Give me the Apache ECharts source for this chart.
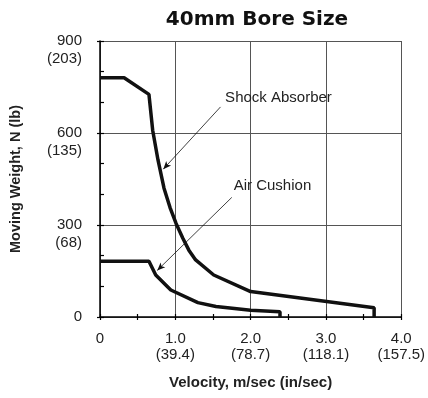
<!DOCTYPE html>
<html>
<head>
<meta charset="utf-8">
<style>
  html, body { margin: 0; padding: 0; background: #fff; }
  #chart { width: 428px; height: 398px; }
</style>
</head>
<body>
<div id="chart"></div>
<script src="https://cdn.jsdelivr.net/npm/echarts@6/dist/echarts.min.js"></script>
<script>
// velocity (m/sec), moving weight (N)
var shockAbsorber = [
  [0, 780], [0.32, 780], [0.65, 726], [0.70, 608], [0.77, 512], [0.85, 420],
  [0.93, 357], [1.01, 305], [1.10, 257], [1.18, 218], [1.27, 186], [1.51, 137],
  [2.0, 83], [3.64, 30], [3.64, 0]
];
var airCushion = [
  [0, 182], [0.65, 182], [0.74, 137], [0.94, 88], [1.30, 47], [1.54, 34],
  [2.0, 22], [2.39, 17], [2.39, 0]
];

var xTickLabels = { 0: '0', 1: '1.0\n(39.4)', 2: '2.0\n(78.7)', 3: '3.0\n(118.1)', 4: '4.0\n(157.5)' };
var yTickLabels = { 0: '0', 300: '300\n(68)', 600: '600\n(135)', 900: '900\n(203)' };

// annotation callouts: text position, arrow start, arrow end
var shockNote = { text: 'Shock Absorber', at: [2.37, 715], from: [1.60, 685], to: [0.84, 482] };
var airNote = { text: 'Air Cushion', at: [2.29, 427], from: [1.75, 390], to: [0.76, 152] };

var font = 'Liberation Sans, Arial, sans-serif';
var chart = echarts.init(document.getElementById('chart'));

function arrow(n) {
  return [{ coord: n.from }, { coord: n.to }];
}
function note(n) {
  return { name: n.text, coord: n.at };
}

// helper axes: only ticks or grid lines, no labels
function plainAxis(min, max, interval, extra) {
  var a = {
    type: 'value', min: min, max: max, interval: interval,
    axisLine: { show: false },
    axisTick: { show: false },
    axisLabel: { show: false },
    splitLine: { show: false }
  };
  for (var k in extra) a[k] = extra[k];
  return a;
}

var tickStyle = { color: '#000', width: 1.2 };
var gridStyle = { color: '#555', width: 1 };

var option = {
  animation: false,
  title: {
    text: '40mm Bore Size',
    left: 252,
    textAlign: 'center',
    top: 5,
    textStyle: { fontFamily: 'DejaVu Sans', fontWeight: 'bold', fontSize: 20, color: '#111' }
  },
  grid: { left: 100, right: 24, top: 41, bottom: 81 },
  xAxis: [{
    type: 'value', min: 0, max: 4, interval: 0.5,
    name: 'Velocity, m/sec (in/sec)', nameLocation: 'middle', nameGap: 58,
    nameTextStyle: { fontFamily: font, fontWeight: 'bold', fontSize: 15, color: '#222' },
    axisLine: { lineStyle: { color: '#000', width: 1.5 } },
    axisTick: { inside: true, length: 3, lineStyle: tickStyle },
    axisLabel: {
      margin: 14, fontFamily: font, fontSize: 15, color: '#222', lineHeight: 16,
      formatter: function (v) { return xTickLabels[v] !== undefined ? xTickLabels[v] : ''; }
    },
    splitLine: { show: false }
  },
  plainAxis(0, 4, 0.5, { position: 'bottom', axisTick: { show: true, length: 3, lineStyle: tickStyle } }),
  plainAxis(0, 4, 1, { position: 'bottom', splitLine: { show: true, lineStyle: gridStyle } })
  ],
  yAxis: [{
    type: 'value', min: 0, max: 900, interval: 100,
    name: 'Moving Weight, N (lb)', nameLocation: 'middle', nameGap: 77,
    nameTextStyle: { fontFamily: font, fontWeight: 'bold', fontSize: 14.5, color: '#222' },
    axisLine: { show: true, lineStyle: { color: '#000', width: 1.5 } },
    axisTick: { show: true, inside: true, length: 4, lineStyle: tickStyle },
    axisLabel: {
      margin: 18, fontFamily: font, fontSize: 15, color: '#222', lineHeight: 18,
      formatter: function (v) {
        if (yTickLabels[v] === undefined) return '';
        return v === 0 ? '0' : ' \n' + yTickLabels[v];
      }
    },
    splitLine: { show: false }
  },
  plainAxis(0, 900, 300, {
    position: 'left',
    axisTick: { show: true, length: 3, lineStyle: tickStyle },
    splitLine: { show: true, lineStyle: gridStyle }
  })
  ],
  series: [{
    name: 'Shock Absorber',
    type: 'line',
    data: shockAbsorber,
    symbol: 'none',
    lineStyle: { color: '#111', width: 3.5 },
    markLine: {
      silent: true, symbol: ['none', 'arrow'], symbolSize: [5, 8],
      lineStyle: { color: '#111', width: 0.8, type: 'solid' },
      label: { show: false },
      data: [arrow(shockNote), arrow(airNote)]
    },
    markPoint: {
      silent: true, symbol: 'circle', symbolSize: 1,
      itemStyle: { color: 'rgba(0,0,0,0)' },
      label: { show: true, position: 'inside', formatter: '{b}', fontFamily: font, fontSize: 15, color: '#222' },
      data: [note(shockNote), note(airNote)]
    }
  }, {
    name: 'Air Cushion',
    type: 'line',
    data: airCushion,
    symbol: 'none',
    lineStyle: { color: '#111', width: 3.5 }
  }]
};

chart.setOption(option);
</script>
</body>
</html>
